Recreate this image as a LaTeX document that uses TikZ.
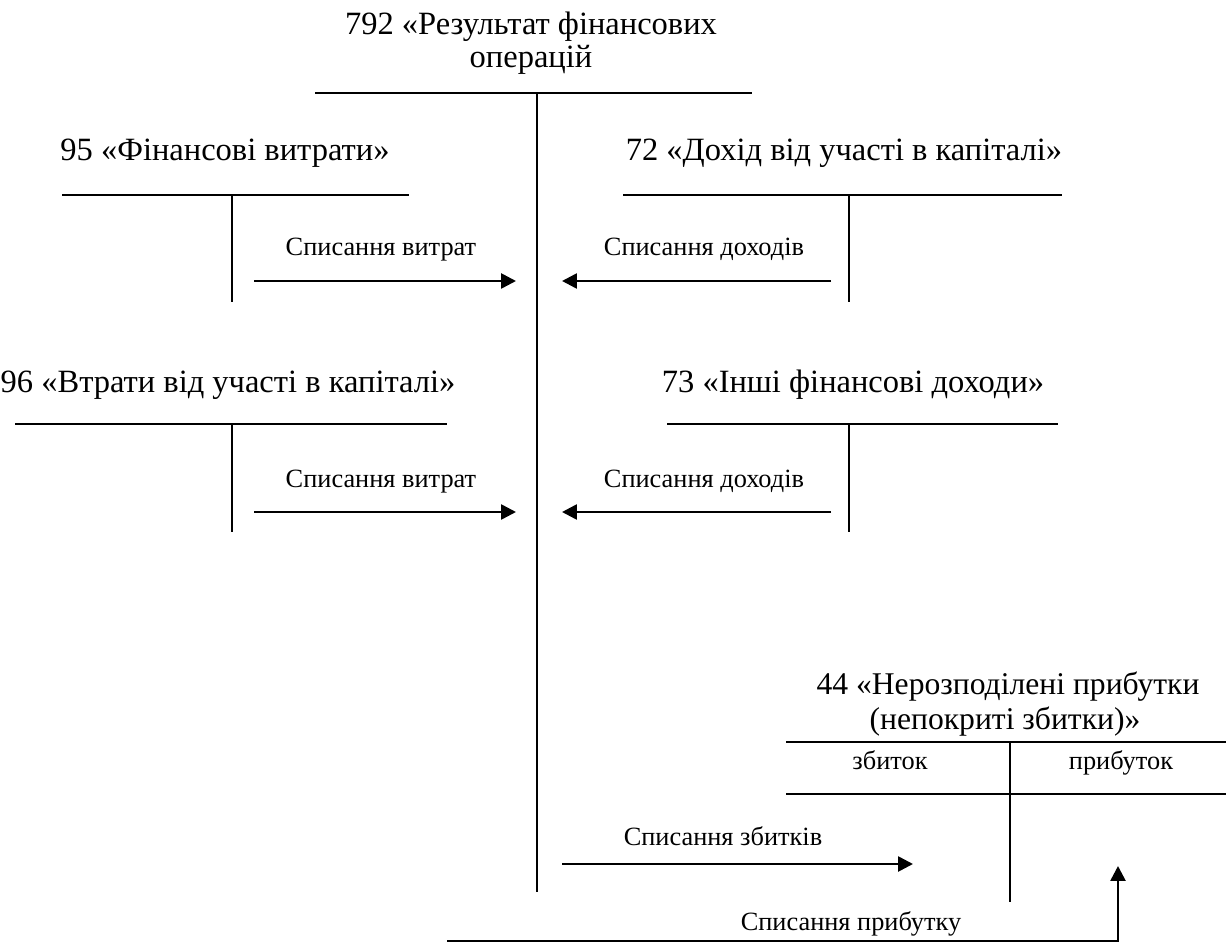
\documentclass[tikz,border=0pt]{standalone}
\usepackage{fontspec}
\setmainfont{Liberation Serif}
\usetikzlibrary{calc,positioning,arrows.meta}
\tikzset{
	>={Triangle[length=8.5pt,width=8.5pt]},
	acct/.style={font=\fontsize{18.5}{19}\selectfont, inner sep=0pt, anchor=base},
	note/.style={font=\fontsize{15}{17}\selectfont, inner sep=0pt, anchor=base},
	tline/.style={line width=1pt},
	post/.style={line width=1.5pt, ->},
}

\begin{document}
\begin{tikzpicture}[x=0.02cm, y=-0.02cm]
        \useasboundingbox (0,0) rectangle (1230,945);
        % 792
        \node[acct] (r792a) at (531,35) {792 «Результат фінансових};
        \node[acct] (r792b) at (531,68) {операцій};
        \coordinate (r792l) at (315,93);
        \coordinate (r792r) at (752,93);
        \coordinate (r792t) at (537,93);
        \coordinate (r792e) at (537,892);
        \draw[tline] (r792l) -- (r792r);
        \draw[tline] (r792t) -- (r792e);
        % 95
        \node[acct] (a95) at (225,161) {95 «Фінансові витрати»};
        \coordinate (a95l) at (62,195);
        \coordinate (a95r) at (409,195);
        \coordinate (a95t) at (232,195);
        \coordinate (a95b) at (232,302);
        \draw[tline] (a95l) -- (a95r);
        \draw[tline] (a95t) -- (a95b);
        \coordinate (p95s) at (254,281);
        \coordinate (p95e) at (516,281);
        \draw[post] (p95s) -- (p95e);
        \node[note] (n95) at (381,256) {Списання витрат};
        % 72
        \node[acct] (a72) at (844,161) {72 «Дохід від участі в капіталі»};
        \coordinate (a72l) at (623,195);
        \coordinate (a72r) at (1062,195);
        \coordinate (a72t) at (849,195);
        \coordinate (a72b) at (849,302);
        \draw[tline] (a72l) -- (a72r);
        \draw[tline] (a72t) -- (a72b);
        \coordinate (p72s) at (831,281);
        \coordinate (p72e) at (562,281);
        \draw[post] (p72s) -- (p72e);
        \node[note] (n72) at (704,256) {Списання доходів};
        % 96
        \node[acct] (a96) at (228,393) {96 «Втрати від участі в капіталі»};
        \coordinate (a96l) at (15,424);
        \coordinate (a96r) at (447,424);
        \coordinate (a96t) at (232,424);
        \coordinate (a96b) at (232,532);
        \draw[tline] (a96l) -- (a96r);
        \draw[tline] (a96t) -- (a96b);
        \coordinate (p96s) at (254,512);
        \coordinate (p96e) at (516,512);
        \draw[post] (p96s) -- (p96e);
        \node[note] (n96) at (381,487) {Списання витрат};
        % 73
        \node[acct] (a73) at (853,393) {73 «Інші фінансові доходи»};
        \coordinate (a73l) at (667,424);
        \coordinate (a73r) at (1058,424);
        \coordinate (a73t) at (849,424);
        \coordinate (a73b) at (849,532);
        \draw[tline] (a73l) -- (a73r);
        \draw[tline] (a73t) -- (a73b);
        \coordinate (p73s) at (831,512);
        \coordinate (p73e) at (562,512);
        \draw[post] (p73s) -- (p73e);
        \node[note] (n73) at (704,487) {Списання доходів};
        % 44
        \node[acct, font=\fontsize{18}{19}\selectfont] (a44a) at (1008,694) {44 «Нерозподілені прибутки};
        \node[acct, font=\fontsize{18}{19}\selectfont] (a44b) at (1005,729) {(непокриті збитки)»};
        \coordinate (a44l) at (786,742);
        \coordinate (a44r) at (1226,742);
        \coordinate (a44l2) at (786,794);
        \coordinate (a44r2) at (1226,794);
        \coordinate (a44t) at (1010,742);
        \coordinate (a44b) at (1010,902);
        \draw[tline] (a44l) -- (a44r);
        \draw[tline] (a44l2) -- (a44r2);
        \draw[tline] (a44t) -- (a44b);
        \node[note] (dr44) at (890,769) {збиток};
        \node[note] (cr44) at (1121,769) {прибуток};
        % closing entries
        \coordinate (zbs) at (562,864);
        \coordinate (zbe) at (913,864);
        \draw[post] (zbs) -- (zbe);
        \node[note] (nzb) at (723,845) {Списання збитків};
        \coordinate (prs) at (447,941);
        \coordinate (prc) at (1118,941);
        \coordinate (pre) at (1118,866);
        \draw[post] (prs) -- (prc) -- (pre);
        \node[note] (npr) at (851,930) {Списання прибутку};
    \end{tikzpicture}
\end{document}
